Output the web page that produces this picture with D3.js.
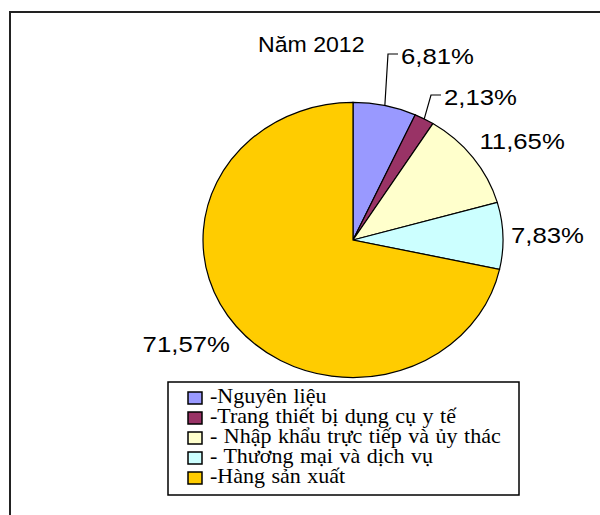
<!DOCTYPE html>
<html>
<head>
<meta charset="utf-8">
<script src="https://cdn.jsdelivr.net/npm/d3@7"></script>
<style>
    body { margin: 0; background: #fff; }
    svg { display: block; }
    .lbl { font-family: "Liberation Sans", Arial, sans-serif; font-size: 22px; fill: #000; }
    .leg { font-family: "Liberation Serif", "Times New Roman", serif; font-size: 22px; fill: #000; word-spacing: 1px; }
</style>
</head>
<body>
<div id="chart"></div>
<script>
// data
let categories = ["-Nguyên liệu", "-Trang thiết bị dụng cụ y tế", "- Nhập khẩu trực tiếp và ủy thác", "- Thương mại và dịch vụ", "-Hàng sản xuất"];
let values = [6.81, 2.13, 11.65, 7.83, 71.57];
let valueLabels = ["6,81%", "2,13%", "11,65%", "7,83%", "71,57%"];
let colors = ["#9999FF", "#993366", "#FFFFCC", "#CCFFFF", "#FFCC00"];
let title = "Năm 2012";

// labels that were dragged away from the pie (offset of text start from pie center)
let labelMoves = { 0: [48, -176], 1: [91, -135] };

let width = 600, height = 515;
let cx = 353, cy = 240, R = 150, squish = 0.917;

let svg = d3.select("#chart")
    .append("svg")
    .attr("width", width)
    .attr("height", height);

// outer frame
svg.append("rect")
    .attr("x", 10).attr("y", 12)
    .attr("width", 640).attr("height", 540)
    .attr("fill", "none")
    .attr("stroke", "#222")
    .attr("stroke-width", 2);

// title
svg.append("text")
    .attr("class", "lbl")
    .attr("transform", "translate(258,52) scale(1.05,1)")
    .text(title);

let pie = d3.pie().sort(null).value(function (d) { return d; });
let arcs = pie(values);
let arc = d3.arc().innerRadius(0).outerRadius(R);

let g = svg.append("g")
    .attr("transform", "translate(" + cx + "," + cy + ") scale(1," + squish + ")");

g.selectAll("path")
    .data(arcs)
    .enter()
    .append("path")
    .attr("d", arc)
    .attr("fill", function (d, i) { return colors[i]; })
    .attr("stroke", "#000")
    .attr("stroke-width", 1.2)
    .attr("vector-effect", "non-scaling-stroke");

// data labels
let clamp = function (v) { return Math.max(-1, Math.min(1, v)); };
let sx = 1.17, boxH = 26, gap = 8;

arcs.forEach(function (d, i) {
    let a = (d.startAngle + d.endAngle) / 2;
    let ex = cx + R * Math.sin(a);
    let ey = cy - R * squish * Math.cos(a);

    let t = svg.append("text").attr("class", "lbl").text(valueLabels[i]);
    let w = t.node().getComputedTextLength() * sx;

    let left, base;
    if (labelMoves[i]) {
        left = cx + labelMoves[i][0];
        base = cy + labelMoves[i][1];
        let midY = base - 10;
        svg.append("polyline")
            .attr("points", [[ex, ey], [left - 13, midY], [left - 3, midY]].join(" "))
            .attr("fill", "none")
            .attr("stroke", "#000")
            .attr("stroke-width", 1.2);
    } else {
        let ax = ex + gap * Math.sin(a);
        let ay = ey - gap * Math.cos(a);
        let bx = ax + (w / 2) * clamp(Math.sin(a) * 1.5);
        let by = ay - (boxH / 2) * clamp(Math.cos(a) * 1.5);
        left = bx - w / 2;
        base = by + 8;
    }
    t.attr("transform", "translate(" + left + "," + base + ") scale(" + sx + ",1)");
});

// legend
let lx = 168, ly = 382, lw = 351, lh = 113;
let legend = svg.append("g");
legend.append("rect")
    .attr("x", lx).attr("y", ly)
    .attr("width", lw).attr("height", lh)
    .attr("fill", "#fff")
    .attr("stroke", "#000")
    .attr("stroke-width", 1.5);

let rows = legend.selectAll(".row")
    .data(categories)
    .enter()
    .append("g")
    .attr("class", "row")
    .attr("transform", function (d, i) { return "translate(" + (lx + 20) + "," + (ly + 21 + i * 20) + ")"; });

rows.append("rect")
    .attr("x", 0).attr("y", -11)
    .attr("width", 14).attr("height", 12)
    .attr("fill", function (d, i) { return colors[i]; })
    .attr("stroke", "#000")
    .attr("stroke-width", 1.5);

rows.append("text")
    .attr("class", "leg")
    .attr("x", 22).attr("y", 0)
    .text(function (d) { return d; });
</script>
</body>
</html>
